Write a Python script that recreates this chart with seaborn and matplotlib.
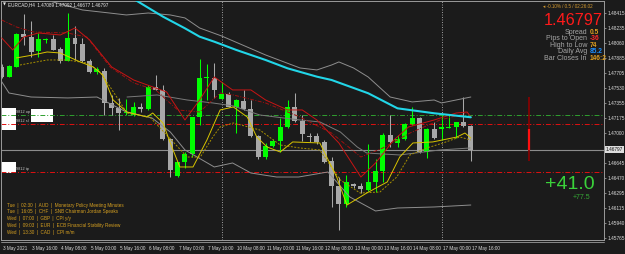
import matplotlib
matplotlib.use("Agg")
import matplotlib.pyplot as plt
import seaborn as sns
import numpy as np
import pandas as pd
from matplotlib.patches import Rectangle
from matplotlib.transforms import blended_transform_factory, offset_copy

sns.set_theme(style="dark")
plt.rcParams['font.family'] = ['Liberation Sans', 'DejaVu Sans']

# ---------------- data ----------------
opens = [1.47780, 1.47663, 1.47780, 1.48165, 1.48133, 1.47968, 1.48090, 1.48102, 1.47985, 1.47847,
         1.48121, 1.48047, 1.47847, 1.47722, 1.47730, 1.47350, 1.47292, 1.47233, 1.47213, 1.47303,
         1.47280, 1.47538, 1.47507, 1.46927, 1.46496, 1.46657, 1.46755, 1.47186, 1.47648, 1.47644,
         1.47404, 1.47456, 1.47303, 1.47381, 1.47280, 1.46966, 1.46723, 1.46852, 1.46907, 1.47068,
         1.47303, 1.47146, 1.46966, 1.46966, 1.46899, 1.46676, 1.46382, 1.46164, 1.46402, 1.46379,
         1.46332, 1.46429, 1.46558, 1.46978, 1.46887, 1.46927, 1.47103, 1.47174, 1.46782, 1.47045,
         1.47048, 1.47064, 1.47075, 1.47127, 1.47089]
highs = [1.47812, 1.47800, 1.48173, 1.48400, 1.48321, 1.48173, 1.48114, 1.48153, 1.48015, 1.48408,
         1.48259, 1.48114, 1.47867, 1.47780, 1.47762, 1.47448, 1.47409, 1.47397, 1.47369, 1.47350,
         1.47565, 1.47683, 1.47565, 1.46939, 1.46657, 1.46782, 1.47193, 1.47867, 1.47808, 1.47827,
         1.47604, 1.47487, 1.47397, 1.47507, 1.47389, 1.46978, 1.46880, 1.46927, 1.47174, 1.47389,
         1.47475, 1.47213, 1.47005, 1.46998, 1.46919, 1.46723, 1.46488, 1.46508, 1.46417, 1.46417,
         1.46872, 1.46692, 1.47001, 1.47213, 1.46978, 1.47115, 1.47303, 1.47193, 1.47057, 1.47134,
         1.47213, 1.47213, 1.47127, 1.47428, 1.47092]
lows = [1.47648, 1.47656, 1.47777, 1.48035, 1.47898, 1.47898, 1.48062, 1.47971, 1.47820, 1.47847,
        1.47859, 1.47839, 1.47710, 1.47695, 1.47213, 1.47213, 1.47037, 1.47213, 1.47201, 1.47252,
        1.47272, 1.47507, 1.46919, 1.46488, 1.46488, 1.46586, 1.46723, 1.47095, 1.47389, 1.47409,
        1.47404, 1.47303, 1.46998, 1.47272, 1.46958, 1.46692, 1.46692, 1.46840, 1.46782, 1.47057,
        1.47134, 1.46907, 1.46899, 1.46872, 1.46645, 1.46135, 1.45862, 1.46135, 1.46351, 1.46293,
        1.46323, 1.46311, 1.46429, 1.46840, 1.46840, 1.46919, 1.47095, 1.46763, 1.46704, 1.46927,
        1.46919, 1.47057, 1.46939, 1.47075, 1.46677]
closes = [1.47663, 1.47789, 1.48165, 1.48126, 1.47957, 1.48102, 1.48094, 1.47977, 1.47847, 1.48121,
          1.48047, 1.47847, 1.47722, 1.47750, 1.47350, 1.47292, 1.47240, 1.47252, 1.47303, 1.47280,
          1.47538, 1.47507, 1.46927, 1.46567, 1.46657, 1.46755, 1.47186, 1.47644, 1.47653, 1.47507,
          1.47456, 1.47303, 1.47389, 1.47280, 1.46966, 1.46716, 1.46852, 1.46907, 1.47068, 1.47303,
          1.47146, 1.46990, 1.46958, 1.46899, 1.46657, 1.46382, 1.46164, 1.46429, 1.46379, 1.46343,
          1.46429, 1.46558, 1.46978, 1.46899, 1.46927, 1.47103, 1.47174, 1.46782, 1.47045, 1.46939,
          1.47068, 1.47075, 1.47127, 1.47087, 1.46797]

cyan_idx = [16, 18, 22, 25, 27, 29, 32, 36, 39, 43, 45, 50, 54, 59, 64]
cyan_val = [1.48682, 1.48576, 1.48368, 1.48231, 1.48133, 1.48074, 1.47977, 1.47859, 1.47761,
            1.47663, 1.47624, 1.47468, 1.47291, 1.47233, 1.47186]

upper_idx = [0, 3, 6, 11, 15, 17, 20, 23, 25, 27, 30, 36, 40.7, 43, 45, 46, 48, 50, 53, 56, 59, 60, 64]
upper_val = [1.48740, 1.48623, 1.48564, 1.48447, 1.48408, 1.48388, 1.48411, 1.48388, 1.48353,
             1.48235, 1.48141, 1.47918, 1.47765, 1.47742, 1.47800, 1.47836, 1.47765, 1.47659,
             1.47424, 1.47366, 1.47389, 1.47354, 1.47424]

mid_idx = [17.1, 21.2, 25.3, 28.8, 31.6, 35.2, 38.4, 40.7, 43.4, 46.2, 48.5, 49.8, 54.3, 59.8, 63.9]
mid_val = [1.47424, 1.47448, 1.47389, 1.47354, 1.47319, 1.47213, 1.47178, 1.47154, 1.47131,
           1.47013, 1.46837, 1.46766, 1.46743, 1.46802, 1.46825]

lower_idx = [0, 1, 4, 9, 13, 17, 20.5, 23, 25, 29, 31.5, 34, 37.5, 40.5, 44.5, 47.5, 51, 54, 59, 64]
lower_val = [1.47604, 1.47471, 1.47424, 1.47413, 1.47424, 1.47248, 1.47178, 1.47013, 1.46802,
             1.46602, 1.46649, 1.46531, 1.46484, 1.46484, 1.46543, 1.46249, 1.46085, 1.46120,
             1.46132, 1.46155]

red_idx = [0, 1.5, 3, 5, 8, 10, 12, 15, 18, 21, 22.5, 25, 27, 29, 31.5, 34, 36, 39, 41, 43,
           46, 49, 51, 53.5, 55.5, 59, 62, 63.5, 64]
red_val = [1.48118, 1.47977, 1.48129, 1.48176, 1.48153, 1.48235, 1.48094, 1.47777, 1.47624,
           1.47530, 1.47483, 1.47154, 1.47389, 1.47659, 1.47507, 1.47507, 1.47389, 1.47272,
           1.47272, 1.47154, 1.46884, 1.46484, 1.46649, 1.46919, 1.47072, 1.47154, 1.47236,
           1.47248, 1.47189]

red2_idx = [0, 2, 4.3, 9, 11.6, 14.8, 18, 21, 24, 27, 29.8, 31.6, 36, 40.7, 45, 49, 52, 55.7, 59.8, 63.5]
red2_val = [1.48329, 1.48247, 1.48188, 1.48176, 1.48129, 1.47777, 1.47589, 1.47507, 1.47272,
            1.47248, 1.47471, 1.47448, 1.47354, 1.47189, 1.47001, 1.46719, 1.46825, 1.47001,
            1.47154, 1.47236]

yel_idx = [2, 4.3, 6.2, 8, 10.7, 12.5, 13.8, 15.2, 17.1, 19.8, 20.6, 22, 23, 24.3, 26.1, 28,
           29.8, 31.6, 33.5, 34.8, 36.2, 38, 39.7, 43.4, 45.7, 47.1, 49.8, 52.6, 54.3, 56.1,
           58.8, 62.1, 63.2, 64]
yel_val = [1.47883, 1.47918, 1.47953, 1.47941, 1.47836, 1.47777, 1.47683, 1.47389, 1.47248,
           1.47189, 1.47236, 1.47119, 1.46884, 1.46602, 1.46602, 1.46919, 1.47272, 1.47307,
           1.47189, 1.46954, 1.46837, 1.46778, 1.46896, 1.46884, 1.46484, 1.46155, 1.46296,
           1.46426, 1.46719, 1.46884, 1.46896, 1.46954, 1.47001, 1.46943]

yel2_idx = [2.5, 6.2, 8.9, 11.6, 13.4, 14.8, 17.1, 20.2, 23.4, 25.3, 27.1, 28.8, 29.8, 31.6,
            35.2, 38, 40.7, 43.4, 46.2, 48.9, 51.6, 53.9, 55.7, 58, 60.2, 62.5, 64]
yel2_val = [1.47800, 1.47859, 1.47859, 1.47824, 1.47718, 1.47542, 1.47236, 1.47189, 1.46896,
            1.46719, 1.46719, 1.46954, 1.47072, 1.47119, 1.47037, 1.46860, 1.46825, 1.46802,
            1.46449, 1.46296, 1.46308, 1.46484, 1.46743, 1.46825, 1.46884, 1.46954, 1.46919]

level_open = 1.47209
level_sl = 1.47105
level_tp = 1.46539
bid = 1.46797
day_high, day_low, day_open = 1.47421, 1.46677, 1.47048

price_ticks = [1.48415, 1.48235, 1.48060, 1.47885, 1.47705, 1.47530, 1.47355, 1.47175,
               1.47000, 1.46645, 1.46470, 1.46295, 1.46115, 1.45940, 1.45765]
time_tick_idx = [0, 4, 8, 12, 16, 20, 24, 28, 32, 36, 40, 44, 48, 52, 56, 60, 64]
time_tick_lbl = ["3 May 2021", "3 May 16:00", "4 May 08:00", "5 May 00:00", "5 May 16:00",
                 "6 May 08:00", "7 May 00:00", "7 May 16:00", "10 May 08:00", "11 May 00:00",
                 "11 May 16:00", "12 May 08:00", "13 May 00:00", "13 May 16:00", "14 May 08:00",
                 "17 May 00:00", "17 May 16:00"]
separators = [30, 60]

news = ["Tue  |  02:30  |  AUD  |  Monetary Policy Meeting Minutes",
        "Tue  |  16:05  |  CHF  |  SNB Chairman Jordan Speaks",
        "Wed  |  07:00  |  GBP  |  CPI y/y",
        "Wed  |  09:03  |  EUR  |  ECB Financial Stability Review",
        "Wed  |  13:30  |  CAD  |  CPI m/m"]
info_labels = ["Spread", "Pips to Open", "High to Low", "Daily Avg", "Bar Closes In"]
info_values = ["0.5", "-36", "74", "85.2", "146:2"]
info_colors = ["#e0a020", "#ff2a2a", "#e0a020", "#1e90ff", "#e0a020"]

# ---------------- layout ----------------
W, H = 625, 254
BG = '#1b1b1b'

def fx(x):
    return x / W

def fy(y):
    return 1 - y / H

fig = plt.figure(figsize=(W / 100, H / 100), dpi=100, facecolor=BG)
ax = fig.add_axes([fx(1), fy(240), (604 - 1) / W, (240 - 1) / H])
ax.set_facecolor(BG)

step = 7.33
ax.set_xlim((1 - 1.7) / step, (604 - 1.7) / step)
ax.set_ylim(1.45744, 1.48552)

df = pd.DataFrame({"o": opens, "h": highs, "l": lows, "c": closes})
df["i"] = np.arange(len(df))
bull = df["c"] >= df["o"]
col = np.where(bull, '#00ff00', '#a8a8a8')

# separators
for s in separators:
    ax.axvline(s, color='#b0b0b0', lw=0.6, ls=(0, (1.2, 1.8)), zorder=1)

# horizontal levels
ax.axhline(bid, color='#8c8c8c', lw=0.8, zorder=1)
ax.axhline(level_open, color='#2fa02f', lw=0.7, ls=(0, (5, 2, 1, 2)), zorder=2)
ax.axhline(level_sl, color='#e01010', lw=0.7, ls=(0, (5, 2, 1, 2)), zorder=2)
ax.axhline(level_tp, color='#e01010', lw=0.7, ls=(0, (5, 2, 1, 2)), zorder=2)

# candles
ax.vlines(df["i"], df["l"], df["h"], colors=col, lw=0.75, zorder=3)
bottoms = np.minimum(df["o"], df["c"])
heights = np.maximum(np.abs(df["c"] - df["o"]), 0.00012)
ax.bar(df["i"], heights, bottom=bottoms, width=0.68, color=col, linewidth=0, zorder=4)

# indicators
def sline(xs, ys, color, lw, dashes=None):
    sns.lineplot(x=xs, y=ys, ax=ax, color=color, linewidth=lw, estimator=None, sort=False, zorder=5)
    ln = ax.lines[-1]
    if dashes is not None:
        ln.set_linestyle(dashes)
    ln.set_zorder(5)

sline(upper_idx, upper_val, '#8e8e8e', 0.7)
sline(mid_idx, mid_val, '#7a7a7a', 0.7)
sline(lower_idx, lower_val, '#8e8e8e', 0.7)
sline(red2_idx, red2_val, '#a01010', 0.7, (0, (4, 1.5, 1, 1.5)))
sline(red_idx, red_val, '#c81414', 0.7)
sline(yel2_idx, yel2_val, '#a89000', 0.7, (0, (2, 1.5)))
sline(yel_idx, yel_val, '#d8c400', 0.7)
sline(cyan_idx, cyan_val, '#22d6e8', 1.5)

# daily range bar
rng_x = 72
ax.vlines([rng_x], [day_low], [day_high], colors='#8b0000', lw=1.2, zorder=5)
ax.vlines([rng_x], [bid], [day_open], colors='#ff1010', lw=1.6, zorder=6)

# axes style
for sp in ax.spines.values():
    sp.set_color('#9a9a9a')
    sp.set_linewidth(0.7)
ax.grid(False)
ax.yaxis.tick_right()
ax.set_yticks(price_ticks)
ax.set_yticklabels([f"{p:.5f}" for p in price_ticks], fontsize=3.4, color='#dcdcdc')
ax.tick_params(axis='y', length=1.6, width=0.5, color='#b0b0b0', pad=1.2)
ax.set_xticks(time_tick_idx)
ax.set_xticklabels([''] * len(time_tick_idx))
ax.tick_params(axis='x', length=1.8, width=0.5, color='#b0b0b0', direction='out')
trans = offset_copy(blended_transform_factory(ax.transData, ax.transAxes), fig=fig, x=0.8, y=-6.0, units='points')
for i, lbl in zip(time_tick_idx, time_tick_lbl):
    ax.text(i, 0, lbl, transform=trans, fontsize=3.3, color='#dcdcdc', ha='left', va='center')

# second bottom border line
fig.add_artist(plt.Line2D([fx(1), fx(604)], [fy(242), fy(242)], color='#9a9a9a', lw=0.6))

# current price box on axis
fig.add_artist(Rectangle((fx(605), fy(153)), 19 / W, 7 / H, color='#dedede', lw=0))
fig.text(fx(614.5), fy(149.5), f"{bid:.5f}", fontsize=3.4, color='#101010', ha='center', va='center')

# trade label boxes
for (x0, y0, x1, y1) in [(1, 108.3, 15.7, 130), (30.7, 109, 52.7, 121.7), (1, 161.7, 15.7, 173.3)]:
    ax.add_artist(Rectangle((fx(x0), fy(y1)), (x1 - x0) / W, (y1 - y0) / H,
                            transform=fig.transFigure, color='white', lw=0, zorder=1.5))
ltrans = offset_copy(blended_transform_factory(fig.transFigure, ax.transData), fig=fig, x=0, y=2.2, units='points')
for lv, tag in [(level_open, "9812 op"), (level_sl, "9812 sl"), (level_tp, "9812 tp")]:
    ax.text(fx(16.5), lv, tag, transform=ltrans, fontsize=2.8, color='#c8c8c8', ha='left', va='center', zorder=7)

# title
fig.text(fx(2.5), fy(5), "▼", fontsize=2.8, color='#e8e8e8', ha='left', va='center', family=['DejaVu Sans'])
fig.text(fx(8.3), fy(5), "EURCAD,H4  1.47089 1.47092 1.46677 1.46797", fontsize=3.3, color='#ececec', ha='left', va='center')

# info panel
fig.text(fx(543), fy(6.7), "◂ -0.10% / 0.5 / 02:26:02", fontsize=3.3, color='#d49a30', ha='left', va='center')
fig.text(fx(603), fy(24.8), f"{bid:.5f}", fontsize=11.7, color='#ff1a1a', ha='right', va='baseline')
rows_y = [32.0, 38.6, 45.2, 51.8, 58.4]
for lbl, val, c, yy in zip(info_labels, info_values, info_colors, rows_y):
    fig.text(fx(587), fy(yy), lbl, fontsize=5.0, color='#a6a6a6', ha='right', va='center')
    fig.text(fx(590), fy(yy), val, fontsize=4.8, color=c, ha='left', va='center', weight='bold')

fig.text(fx(595), fy(184.5), "+41.0", fontsize=14, color='#3ad23a', ha='right', va='center')
fig.text(fx(590), fy(197.5), "+77.5", fontsize=5.0, color='#35a835', ha='right', va='center')

# news
for k, line in enumerate(news):
    fig.text(fx(7.3), fy(205 + 6.95 * k), line, fontsize=3.3, color='#d6a020', ha='left', va='center')

fig.savefig("out.png", dpi=100, facecolor=BG)
